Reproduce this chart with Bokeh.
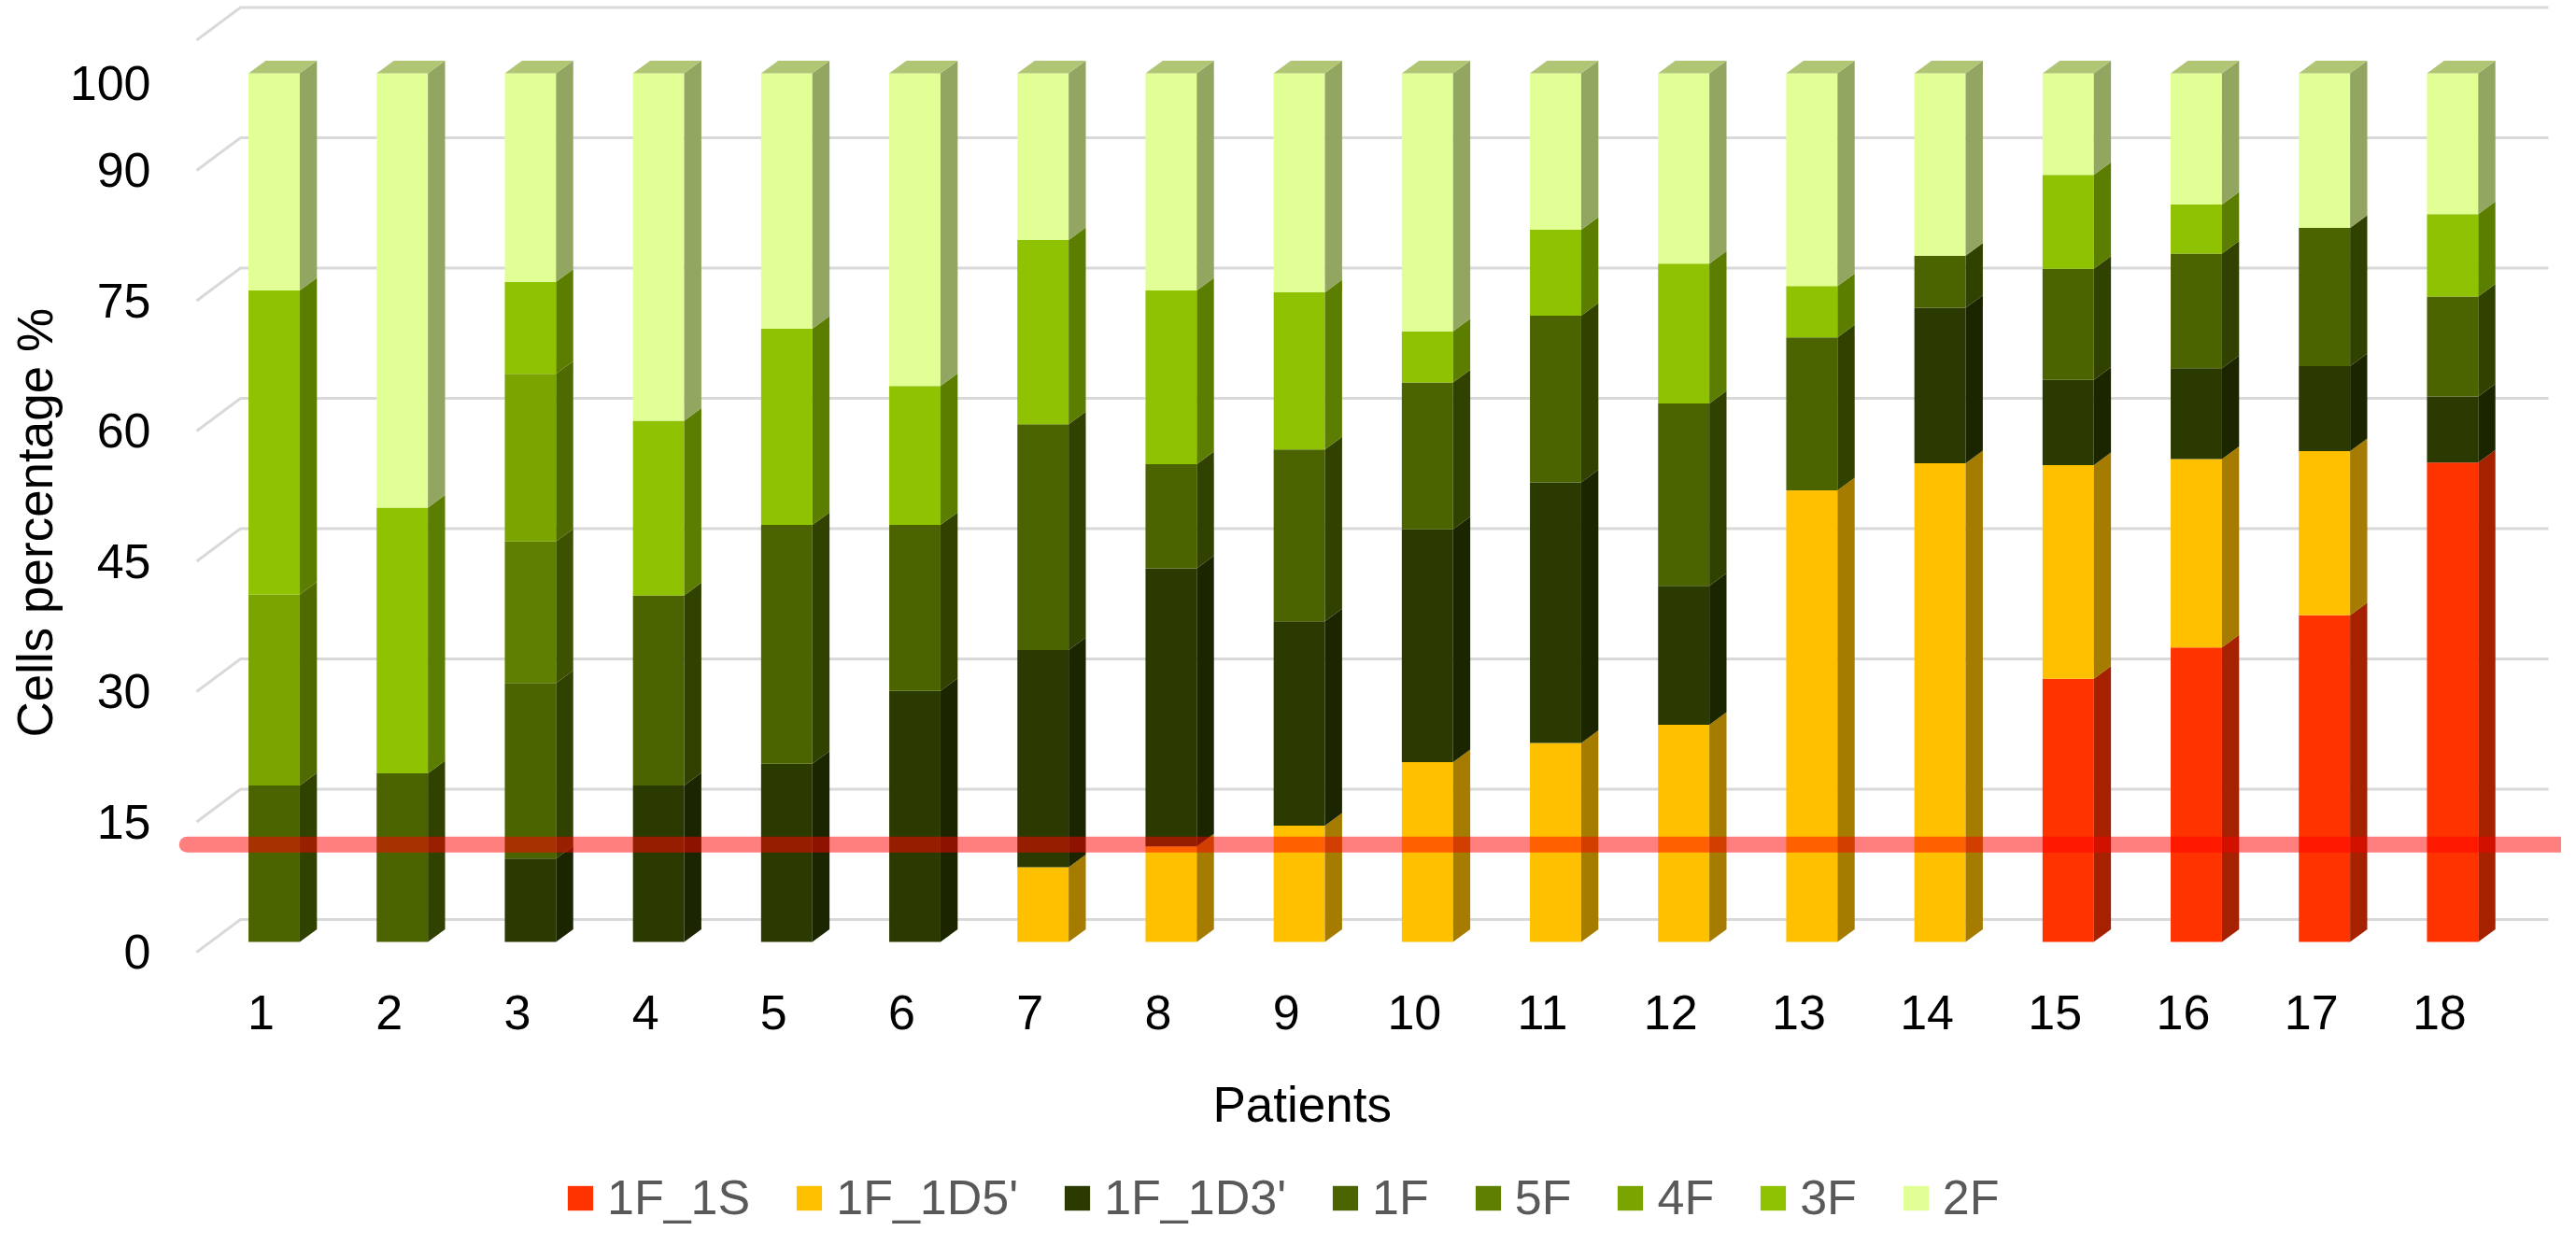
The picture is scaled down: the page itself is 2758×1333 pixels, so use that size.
import numpy as np
from bokeh.plotting import figure
from bokeh.layouts import column
from bokeh.models import (Range1d, LinearAxis, FixedTicker, Legend, LegendItem,
                          Title, Label)
from bokeh.embed import file_html
from bokeh.resources import INLINE

# ---------------- data ----------------
patients = [str(i) for i in range(1, 19)]
series_names = ["1F_1S", "1F_1D5'", "1F_1D3'", "1F", "5F", "4F", "3F", "2F"]
series_colors = ["#ff3300", "#ffc000", "#2b3a00", "#4b6400",
                 "#5f7f00", "#7aa400", "#8fc200", "#e2ff96"]

v_1F_1S  = [0, 0, 0, 0, 0, 0, 0, 0, 0, 0, 0, 0, 0, 0, 30.3, 33.9, 37.6, 55.2]
v_1F_1D5 = [0, 0, 0, 0, 0, 0, 8.6, 11.0, 13.4, 20.7, 22.9, 25.0, 52.0, 55.1, 24.6, 21.7, 18.9, 0]
v_1F_1D3 = [0, 0, 9.6, 18.0, 20.5, 28.9, 25.0, 32.0, 23.5, 26.8, 30.0, 16.0, 0, 17.9, 9.8, 10.45, 9.8, 7.6]
v_1F     = [18.0, 19.4, 20.2, 21.9, 27.5, 19.1, 26.0, 12.0, 19.8, 16.9, 19.2, 21.0, 17.6, 6.0, 12.8, 13.2, 15.9, 11.5]
v_5F     = [0, 0, 16.3, 0, 0, 0, 0, 0, 0, 0, 0, 0, 0, 0, 0, 0, 0, 0]
v_4F     = [22.0, 0, 19.3, 0, 0, 0, 0, 0, 0, 0, 0, 0, 0, 0, 0, 0, 0, 0]
v_3F     = [35.0, 30.6, 10.6, 20.1, 22.6, 16.0, 21.2, 20.0, 18.1, 5.9, 9.9, 16.1, 5.9, 0, 10.8, 5.65, 0, 9.5]
v_2F     = [25.0, 50.0, 24.0, 40.0, 29.4, 36.0, 19.2, 25.0, 25.2, 29.7, 18.0, 21.9, 24.5, 21.0, 11.7, 15.1, 17.8, 16.2]

y_ticks = [0, 15, 30, 45, 60, 75, 90, 100]
grid_values = [0, 15, 30, 45, 60, 75, 90, 105]
threshold = 11.2

series_values = [v_1F_1S, v_1F_1D5, v_1F_1D3, v_1F, v_5F, v_4F, v_3F, v_2F]

# ---------------- layout / style constants ----------------
FONT = "Liberation Sans"
W, H_TOTAL = 2742, 1317
H_MAIN = 1130
H_FOOT = H_TOTAL - H_MAIN
FRAME_LEFT, FRAME_BOTTOM = 185, 1030
X0, X1 = 0.2128, 18.850
Y0, Y1 = -2.366, 108.39
BAR_W = 0.40            # front face width (category units)
DX, DY = 0.134, 1.45    # bar depth offset
WALL_DY = 2.58          # back wall offset (value units)
FRONT_DY = -1.18        # front plane offset (value units)
WALL_X_FRONT, WALL_X_BACK, WALL_X_END = 0.395, 0.738, 18.748
LBL_DX = 0.102
LINE_X0, LINE_X1 = 0.3207, 18.864


def shade(hexcol, f):
    h = hexcol.lstrip("#")
    r, g, b = (int(h[i:i + 2], 16) for i in (0, 2, 4))
    return "#%02x%02x%02x" % (int(r * f), int(g * f), int(b * f))


p = figure(width=W, height=H_MAIN, x_range=Range1d(X0, X1), y_range=Range1d(Y0, Y1),
           output_backend="svg", toolbar_location=None,
           x_axis_location=None, y_axis_location=None,
           min_border_left=FRAME_LEFT, min_border_right=0, min_border_top=0,
           min_border_bottom=H_MAIN - FRAME_BOTTOM)
p.outline_line_color = None
p.background_fill_color = "white"
p.grid.visible = False

# back-wall gridlines with diagonal left edge
gxs, gys = [], []
for g in grid_values:
    gxs.append([WALL_X_FRONT, WALL_X_BACK, WALL_X_END])
    gys.append([g + FRONT_DY, g + WALL_DY, g + WALL_DY])
p.multi_line(gxs, gys, line_color="#d9d9d9", line_width=3)

# bars
x = np.arange(1, len(patients) + 1, dtype=float)
vals = np.array(series_values, dtype=float)
tops = np.cumsum(vals, axis=0)
bottoms = tops - vals

for k, name in enumerate(series_names):
    m = vals[k] > 0
    xl = x[m] - BAR_W / 2
    xr = x[m] + BAR_W / 2
    b = bottoms[k][m]
    t = tops[k][m]
    p.quad(left=xl, right=xr, bottom=b, top=t,
           fill_color=series_colors[k], line_color=None)
    side_xs = [[r, r, r + DX, r + DX] for r in xr]
    side_ys = [[bb, tt, tt + DY, bb + DY] for bb, tt in zip(b, t)]
    p.patches(side_xs, side_ys, fill_color=shade(series_colors[k], 0.65), line_color=None)

# top faces
top_xs, top_ys, top_cols = [], [], []
for j in range(len(patients)):
    ks = [k for k in range(len(series_names)) if vals[k][j] > 0]
    kt = ks[-1]
    l, r, t = x[j] - BAR_W / 2, x[j] + BAR_W / 2, tops[kt][j]
    top_xs.append([l, l + DX, r + DX, r])
    top_ys.append([t, t + DY, t + DY, t])
    top_cols.append(shade(series_colors[kt], 0.78))
p.patches(top_xs, top_ys, fill_color=top_cols, line_color=None)

# threshold line
p.line([LINE_X0, LINE_X1], [threshold, threshold], line_color="red",
       line_alpha=0.5, line_width=17, line_cap="round")

# axes (front plane)
p.extra_x_ranges = {"xlab": Range1d(X0 + LBL_DX, X1 + LBL_DX)}
p.extra_y_ranges = {"ylab": Range1d(Y0 - FRONT_DY, Y1 - FRONT_DY)}

xaxis = LinearAxis(x_range_name="xlab",
                   ticker=FixedTicker(ticks=list(range(1, len(patients) + 1))),
                   major_label_overrides={i + 1: s for i, s in enumerate(patients)})
yaxis = LinearAxis(y_range_name="ylab", ticker=FixedTicker(ticks=y_ticks))
for ax in (xaxis, yaxis):
    ax.axis_line_color = None
    ax.major_tick_line_color = None
    ax.minor_tick_line_color = None
    ax.major_tick_out = 0
    ax.major_tick_in = 0
    ax.major_label_text_font = FONT
    ax.major_label_text_font_size = "52px"
    ax.major_label_text_color = "black"
xaxis.major_label_standoff = 35
yaxis.major_label_standoff = 24
p.add_layout(yaxis, "left")
p.add_layout(xaxis, "below")

ytitle = Title(text="Cells percentage %", align="left", offset=241,
               text_font=FONT, text_font_size="53px", text_font_style="normal",
               text_color="black", standoff=10)
p.add_layout(ytitle, "left")

# ---------------- footer: axis title + legend ----------------
# footer frame is aligned with the main frame by the column layout
f = figure(width=W, height=H_FOOT, x_range=Range1d(FRAME_LEFT, W),
           y_range=Range1d(H_FOOT, 0),
           output_backend="svg", toolbar_location=None,
           x_axis_location=None, y_axis_location=None,
           min_border_left=FRAME_LEFT, min_border_right=0, min_border_top=0,
           min_border_bottom=0)
f.outline_line_color = None
f.grid.visible = False

f.add_layout(Label(x=1298, y=1182 - H_MAIN, text="Patients", text_font=FONT,
                   text_font_size="53px", text_color="black",
                   text_align="left", text_baseline="middle"))

legend_items = []
for k, name in enumerate(series_names):
    # legend swatch only (no visible data)
    r = f.quad(left=[np.nan], right=[np.nan], bottom=[np.nan], top=[np.nan],
               fill_color=series_colors[k], line_color=None)
    legend_items.append(LegendItem(label=name, renderers=[r]))

legend = Legend(items=legend_items, orientation="horizontal",
                location=(604 - FRAME_LEFT, 5),
                glyph_width=34, glyph_height=33, label_standoff=12, spacing=46,
                padding=0, margin=0, border_line_color=None, background_fill_alpha=0,
                label_text_font=FONT, label_text_font_size="52px",
                label_text_color="#595959")
f.add_layout(legend, "center")

layout = column(p, f, spacing=0)
open("out.html", "w").write(file_html(layout, INLINE))
